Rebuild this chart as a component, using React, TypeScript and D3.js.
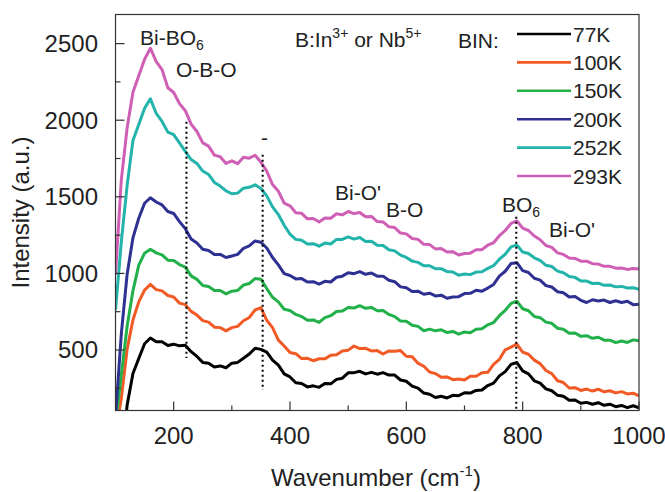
import React from "react";
import * as d3 from "d3";

// Raman spectra of BIN at several temperatures
const wavenumber = [
  100, 110, 120, 130, 140, 150, 160, 170, 180, 190, 200, 210, 220, 230, 240, 250, 260, 270, 280, 290,
  300, 310, 320, 330, 340, 350, 360, 370, 380, 390, 400, 410, 420, 430, 440, 450, 460, 470, 480, 490,
  500, 510, 520, 530, 540, 550, 560, 570, 580, 590, 600, 610, 620, 630, 640, 650, 660, 670, 680, 690,
  700, 710, 720, 730, 740, 750, 760, 770, 780, 790, 800, 810, 820, 830, 840, 850, 860, 870, 880, 890,
  900, 910, 920, 930, 940, 950, 960, 970, 980, 990, 1000,
];

const i77K = [
  -600, -250, 140, 346, 444, 541, 578, 554, 554, 529, 538, 527, 531, 489, 458, 419, 414, 389, 396, 384,
  414, 419, 446, 474, 511, 504, 486, 434, 401, 344, 324, 286, 281, 259, 266, 256, 281, 279, 308, 316,
  351, 352, 361, 344, 354, 342, 352, 336, 336, 304, 296, 264, 251, 219, 211, 190, 198, 187, 204, 202,
  221, 219, 236, 239, 268, 284, 331, 359, 406, 418, 364, 344, 299, 284, 246, 234, 204, 198, 172, 174,
  152, 158, 146, 156, 139, 146, 130, 138, 124, 136, 122,
];

const i100K = [
  -50, 185, 505, 696, 814, 891, 928, 894, 886, 856, 846, 806, 796, 752, 728, 692, 682, 649, 646, 625,
  646, 654, 691, 712, 761, 776, 694, 646, 564, 526, 484, 476, 444, 446, 430, 443, 442, 466, 469, 494,
  499, 526, 509, 511, 494, 496, 474, 494, 492, 496, 459, 456, 414, 394, 356, 346, 322, 324, 306, 311,
  304, 328, 329, 351, 354, 406, 439, 501, 519, 538, 486, 472, 434, 411, 366, 346, 299, 288, 252, 254,
  236, 245, 232, 244, 227, 234, 220, 228, 213, 218, 200,
];

const i150K = [
  20, 335, 655, 886, 1054, 1132, 1158, 1134, 1121, 1086, 1084, 1058, 1041, 984, 961, 921, 914, 889, 888, 866,
  884, 889, 924, 934, 966, 962, 901, 844, 814, 766, 758, 732, 718, 694, 696, 680, 711, 724, 751, 754,
  778, 774, 789, 772, 778, 756, 758, 732, 718, 689, 688, 662, 654, 626, 636, 625, 632, 614, 621, 603,
  618, 612, 636, 639, 664, 679, 724, 759, 804, 818, 769, 756, 719, 711, 682, 674, 642, 636, 609, 611,
  589, 593, 576, 583, 564, 564, 548, 559, 549, 566, 560,
];

const i200K = [
  60, 605, 995, 1232, 1360, 1458, 1494, 1466, 1447, 1404, 1391, 1338, 1292, 1224, 1198, 1158, 1150, 1124, 1124, 1104,
  1114, 1124, 1164, 1180, 1212, 1203, 1166, 1104, 1056, 999, 986, 964, 966, 944, 946, 930, 948, 944, 975, 982,
  1004, 998, 1012, 994, 1002, 982, 982, 955, 946, 912, 906, 882, 884, 864, 871, 853, 858, 838, 846, 848,
  868, 870, 890, 884, 904, 928, 982, 1014, 1064, 1070, 1018, 1006, 968, 956, 920, 911, 880, 874, 846, 849,
  824, 810, 828, 820, 826, 810, 821, 810, 818, 796, 798,
];

const i252K = [
  760, 1205, 1575, 1868, 1972, 2078, 2140, 2044, 1992, 1922, 1906, 1852, 1797, 1743, 1718, 1668, 1646, 1594, 1570, 1538,
  1520, 1524, 1556, 1562, 1578, 1554, 1506, 1434, 1384, 1314, 1256, 1222, 1216, 1192, 1194, 1178, 1198, 1192, 1222, 1222,
  1238, 1224, 1234, 1208, 1210, 1184, 1182, 1154, 1147, 1119, 1104, 1080, 1072, 1050, 1050, 1031, 1031, 1012, 1009, 988,
  996, 992, 1009, 1011, 1033, 1050, 1093, 1125, 1173, 1186, 1140, 1130, 1102, 1085, 1053, 1045, 1015, 1004, 980, 974,
  950, 950, 934, 936, 922, 924, 912, 915, 905, 906, 897,
];

const i293K = [
  990, 1610, 1950, 2182, 2290, 2398, 2470, 2382, 2330, 2212, 2181, 2108, 2062, 1974, 1926, 1852, 1831, 1772, 1761, 1718,
  1735, 1716, 1758, 1752, 1771, 1726, 1668, 1580, 1536, 1459, 1441, 1396, 1392, 1356, 1358, 1336, 1362, 1360, 1389, 1382,
  1404, 1390, 1398, 1370, 1372, 1338, 1336, 1304, 1299, 1263, 1258, 1228, 1222, 1190, 1188, 1160, 1163, 1139, 1142, 1120,
  1130, 1132, 1154, 1155, 1184, 1200, 1246, 1280, 1326, 1342, 1296, 1280, 1244, 1220, 1182, 1170, 1134, 1124, 1100, 1098,
  1080, 1080, 1063, 1061, 1046, 1046, 1034, 1035, 1026, 1032, 1028,
];

const seriesNames = ["77K", "100K", "150K", "200K", "252K", "293K"];
const seriesValues = [i77K, i100K, i150K, i200K, i252K, i293K];
const seriesColors = ["#000000", "#f15a24", "#22b04b", "#2e3192", "#22b3aa", "#cf5fb4"];

const xTicks = [200, 400, 600, 800, 1000];
const xMinorTicks = [300, 500, 700, 900];
const yTicks = [500, 1000, 1500, 2000, 2500];
const yMinorTicks = [250, 750, 1250, 1750, 2250];

// dotted guide lines: wavenumber, top and bottom intensity
const guideWavenumber = [222, 353, 789];
const guideTop = [1990, 1775, 1369];
const guideBottom = [448, 239, 105];

const W = 665;
const H = 492;
const left = 115.5;
const right = 639;
const top = 14.5;
const bottom = 410.5;
const font = "'Liberation Sans', Arial, Helvetica, sans-serif";

export default function App() {
  const x = d3.scaleLinear().domain([100, 1000]).range([left, right]);
  const y = d3.scaleLinear().domain([105, 2690]).range([bottom, top]);

  const line = d3
    .line<number>()
    .x((d, i) => x(wavenumber[i]))
    .y((d) => y(d));

  return (
    <svg
      width={W}
      height={H}
      style={{ position: "absolute", left: 0, top: 0, background: "#fff" }}
      fontFamily={font}
    >
      <defs>
        <clipPath id="plot">
          <rect x={left} y={top} width={right - left} height={bottom - top} />
        </clipPath>
      </defs>

      {/* spectra */}
      <g clipPath="url(#plot)" fill="none" strokeWidth={3} strokeLinejoin="round">
        {seriesValues.map((vals, k) => (
          <path key={seriesNames[k]} d={line(vals) || ""} stroke={seriesColors[k]} />
        ))}
      </g>

      {/* dotted guides */}
      {guideWavenumber.map((w, k) => (
        <line
          key={w}
          x1={x(w)}
          x2={x(w)}
          y1={y(guideTop[k])}
          y2={y(guideBottom[k])}
          stroke="#000"
          strokeWidth={2}
          strokeDasharray="2,3"
        />
      ))}

      {/* frame */}
      <rect x={left} y={top} width={right - left} height={bottom - top} fill="none" stroke="#333" strokeWidth={1.2} />

      {/* ticks */}
      {xTicks.map((t) => (
        <g key={"x" + t}>
          <line x1={x(t)} x2={x(t)} y1={bottom} y2={bottom - 9} stroke="#333" strokeWidth={1.2} />
          <text x={x(t)} y={444} textAnchor="middle" fontSize={24} fill="#222">
            {t}
          </text>
        </g>
      ))}
      {xMinorTicks.map((t) => (
        <line key={"xm" + t} x1={x(t)} x2={x(t)} y1={bottom} y2={bottom - 5} stroke="#333" strokeWidth={1.2} />
      ))}
      {yTicks.map((t) => (
        <g key={"y" + t}>
          <line x1={left} x2={left + 9} y1={y(t)} y2={y(t)} stroke="#333" strokeWidth={1.2} />
          <text x={98} y={y(t) + 8.5} textAnchor="end" fontSize={24} fill="#222">
            {t}
          </text>
        </g>
      ))}
      {yMinorTicks.map((t) => (
        <line key={"ym" + t} x1={left} x2={left + 5} y1={y(t)} y2={y(t)} stroke="#333" strokeWidth={1.2} />
      ))}

      {/* axis titles */}
      <text x={376} y={486} textAnchor="middle" fontSize={24} fill="#222">
        Wavenumber (cm
        <tspan fontSize={15} dy={-10}>
          -1
        </tspan>
        <tspan dy={10}>)</tspan>
      </text>
      <text
        transform={`translate(29, ${(top + bottom) / 2}) rotate(-90)`}
        textAnchor="middle"
        fontSize={24}
        fill="#222"
      >
        Intensity (a.u.)
      </text>

      {/* annotations */}
      <g fontSize={21} fill="#222">
        <text x={140} y={45}>
          Bi-BO<tspan fontSize={14} dy={5}>6</tspan>
        </text>
        <text x={176} y={77}>O-B-O</text>
        <text x={261} y={145}>-</text>
        <text x={335} y={200}>Bi-O'</text>
        <text x={386} y={217}>B-O</text>
        <text x={502} y={212}>
          BO<tspan fontSize={14} dy={5}>6</tspan>
        </text>
        <text x={549} y={237}>Bi-O'</text>
        <text x={295} y={47}>
          B:In<tspan fontSize={14} dy={-9}>3+</tspan>
          <tspan dy={9}> or Nb</tspan>
          <tspan fontSize={14} dy={-9}>5+</tspan>
        </text>
        <text x={458} y={48}>BIN:</text>
      </g>

      {/* legend */}
      <g fontSize={21} fill="#222">
        {seriesNames.map((n, k) => {
          const ly = 34 + k * 28.4;
          return (
            <g key={n}>
              <line x1={517} x2={571} y1={ly} y2={ly} stroke={seriesColors[k]} strokeWidth={2.6} />
              <text x={573} y={ly + 7.5}>
                {n}
              </text>
            </g>
          );
        })}
      </g>
    </svg>
  );
}
